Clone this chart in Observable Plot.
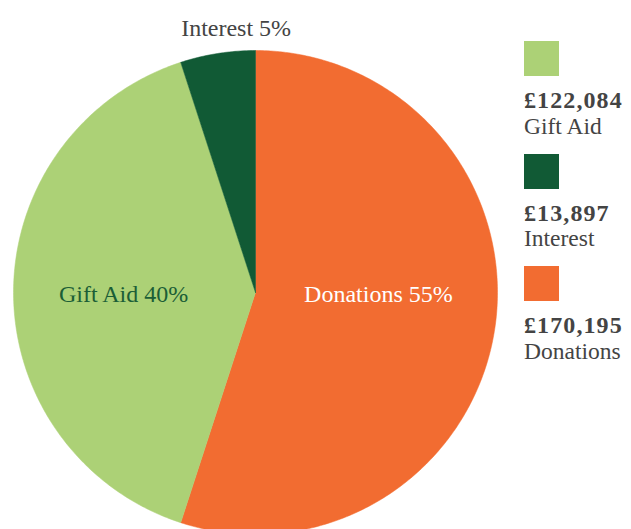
<!DOCTYPE html>
<html><head><meta charset="utf-8">
<script src="https://cdn.jsdelivr.net/npm/d3@7"></script>
<script src="https://cdn.jsdelivr.net/npm/@observablehq/plot@0.6"></script>
<style>
body{margin:0;background:#fff;}
#wrap{position:relative;width:631px;height:529px;overflow:hidden;}
#legend{position:absolute;left:524px;top:41px;font-family:"Liberation Serif",serif;color:#444;}
.item{height:112.6px;}
.sw{width:35px;height:35px;}
.amt{font-weight:bold;font-size:24px;line-height:24px;margin-top:12px;letter-spacing:1.1px;}
.nm{font-size:23.5px;line-height:24px;margin-top:1.5px;}
</style></head>
<body><div id="wrap"><div id="legend"></div></div>
<script>
const categories = ["Donations", "Gift Aid", "Interest"];
const amounts = [170195, 122084, 13897];
const percents = [55, 40, 5];
const colors = ["#F26C31", "#ACD176", "#115A35"];
const legendOrder = ["Gift Aid", "Interest", "Donations"];

const pie = d3.pie().sort(null).value(d => d.value);
const arcs = pie(categories.map((c, i) => ({category: c, value: percents[i]})));

// polygon outlines of slices (unit radius), angle measured clockwise from top
const pts = [];
for (const a of arcs) {
  const c = a.data.category;
  pts.push({category: c, x: 0, y: 0});
  const n = Math.max(4, Math.ceil((a.endAngle - a.startAngle) * 80));
  for (let k = 0; k <= n; k++) {
    const t = a.startAngle + (a.endAngle - a.startAngle) * k / n;
    pts.push({category: c, x: Math.sin(t), y: Math.cos(t)});
  }
  pts.push({category: c, x: 0, y: 0});
}

// label anchors: large slices inside at mid-height, small slice outside above
const labels = arcs.map((a, i) => {
  const c = a.data.category;
  const mid = (a.startAngle + a.endAngle) / 2;
  const text = c + " " + percents[i] + "%";
  if (c === "Interest") return {text, x: -0.08, y: 1.09, fill: "#444"};
  return {text, x: Math.sin(mid) > 0 ? 0.508 : -0.545, y: -0.008,
          fill: c === "Donations" ? "#ffffff" : "#1B5E36"};
});

const chart = Plot.plot({
  width: 631, height: 529,
  margin: 0,
  x: {domain: [-1, 1], range: [13, 497], axis: null},
  y: {domain: [-1, 1], range: [534, 50], axis: null},
  color: {domain: categories, range: colors},
  style: {background: "transparent"},
  marks: [
    Plot.line(pts, {x: "x", y: "y", z: "category", fill: "category", stroke: "category", strokeWidth: 0.5, curve: "linear-closed"}),
    Plot.text(labels, {x: "x", y: "y", text: "text", fill: "fill", fontSize: 24, fontFamily: "Liberation Serif", textAnchor: "middle"})
  ]
});
document.getElementById("wrap").prepend(chart);

const legend = document.getElementById("legend");
for (const name of legendOrder) {
  const i = categories.indexOf(name);
  const it = document.createElement("div"); it.className = "item";
  const sw = document.createElement("div"); sw.className = "sw"; sw.style.background = colors[i];
  const amt = document.createElement("div"); amt.className = "amt"; amt.textContent = "£" + d3.format(",")(amounts[i]);
  const nm = document.createElement("div"); nm.className = "nm"; nm.textContent = name;
  it.append(sw, amt, nm); legend.append(it);
}
</script></body></html>
